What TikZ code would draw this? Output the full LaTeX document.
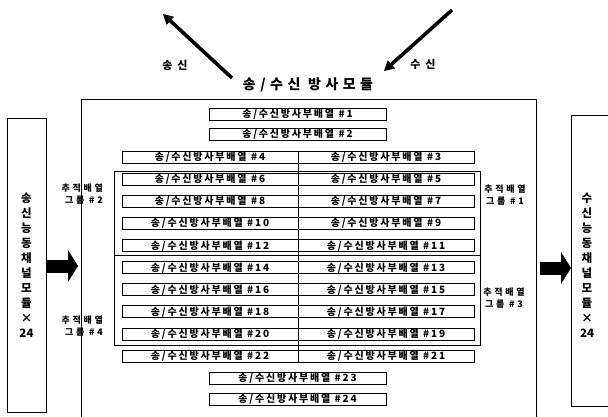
\documentclass[tikz,border=0pt]{standalone}
\usepackage{fontspec}
\newfontfamily\krbox{Noto Sans CJK KR}[LetterSpace=18]
\newfontfamily\krtitle{Noto Sans CJK KR}[LetterSpace=32]
\newfontfamily\krgrp{Noto Sans CJK KR}[LetterSpace=30]
\newfontfamily\krside{Noto Sans CJK KR}
\usetikzlibrary{arrows.meta}
\newcommand\arrlabel[1]{송/수신방사부배열\hspace{4.5pt}\##1}
\begin{document}
\begin{tikzpicture}[x=1pt,y=-1pt,
  cell/.style={draw, line width=0.8pt, inner sep=0pt, minimum height=12pt,
    font={\krbox\bfseries\fontsize{10pt}{11pt}\selectfont}},
  lcell/.style={cell, minimum width=176pt},
  ccell/.style={cell, minimum width=177pt},
  frame/.style={draw, line width=0.9pt, inner sep=0pt},
  grplbl/.style={inner sep=0pt, align=right, anchor=east,
    font={\krgrp\bfseries\fontsize{9pt}{12pt}\selectfont}},
  grplblr/.style={inner sep=0pt, align=center,
    font={\krgrp\bfseries\fontsize{9pt}{12pt}\selectfont}},
  sidetxt/.style={inner sep=0pt, align=center,
    font={\krside\bfseries\fontsize{11.5pt}{15pt}\selectfont}},
  lbl/.style={inner sep=0pt, font={\krside\bfseries\fontsize{11pt}{12pt}\selectfont}},
  thinarr/.style={line width=3.6pt, -{Triangle[length=10pt,width=11pt,line width=0pt]}},
  blockarr/.style={line width=13pt, -{Triangle[length=10pt,width=32pt,line width=0pt]}}
]
\useasboundingbox (0,0) rectangle (608,416);
\begin{scope}
\clip (0,0) rectangle (608,416);

% main module frame (bottom runs off the page)
\node[frame, minimum width=455pt, minimum height=335pt, anchor=north west] (main) at (81,99) {};
\node[inner sep=0pt, font={\krtitle\bfseries\fontsize{14pt}{16pt}\selectfont}] (title) at (308,85) {송/수신 방사모듈};

% side channel modules
\node[frame, minimum width=39pt, minimum height=294pt, anchor=north west] (lbox) at (7,118) {};
\node[sidetxt] (ltxt) at (26.5,265) {송\\신\\능\\동\\채\\널\\모\\듈\\×\\24};
\node[frame, minimum width=45pt, minimum height=291pt, anchor=north west] (rbox) at (571,115) {};
\node[sidetxt] (rtxt) at (587,265) {수\\신\\능\\동\\채\\널\\모\\듈\\×\\24};

% single centred rows
\node[ccell] (b1) at (297.5,114) {\arrlabel{1}};
\node[ccell] (b2) at (297.5,134) {\arrlabel{2}};
\node[ccell] (b23) at (297.5,378) {\arrlabel{23}};
\node[ccell] (b24) at (297.5,399.5) {\arrlabel{24}};

% paired rows
\foreach \k in {0,...,9}{
  \pgfmathtruncatemacro\r{2*\k+3}
  \pgfmathtruncatemacro\l{2*\k+4}
  \pgfmathsetmacro\yy{157.5+22.05*\k}
  \node[lcell] (b\r) at (386,\yy) {\arrlabel{\r}};
  \node[lcell] (b\l) at (210,\yy) {\arrlabel{\l}};
}
\draw[line width=0.8pt] (b4.north east) -- (b22.south east);

% tracking array groups
\coordinate (g1) at (114,171);
\coordinate (g2) at (480,345);
\draw[line width=0.8pt] (g1) rectangle (g2);
\draw[line width=0.8pt] (g1 |- 0,255) -- (g2 |- 0,255);
\node[grplbl] (gl2) at (103,194) {추적배열\\그룹 \#2};
\node[grplbl] (gl4) at (103,326.5) {추적배열\\그룹 \#4};
\node[grplblr] (gl1) at (505,195.5) {추적배열\\그룹 \#1};
\node[grplblr] (gl3) at (504,298.5) {추적배열\\그룹 \#3};

% transmit / receive arrows
\coordinate (txs) at (232,78);
\coordinate (txe) at (163,14);
\coordinate (rxs) at (452,10);
\coordinate (rxe) at (384,71);
\draw[thinarr] (txs) -- (txe);
\draw[thinarr] (rxs) -- (rxe);
\node[lbl] (txl) at (175,65) {송\hspace{5pt}신};
\node[lbl] (rxl) at (423,64) {수\hspace{5pt}신};

% block arrows
\draw[blockarr, shorten >=3pt] (lbox.east |- 0,266) -- (main.west |- 0,266);
\draw[blockarr, shorten <=3pt] (main.east |- 0,268) -- (rbox.west |- 0,268);
\end{scope}
\end{tikzpicture}
\end{document}
